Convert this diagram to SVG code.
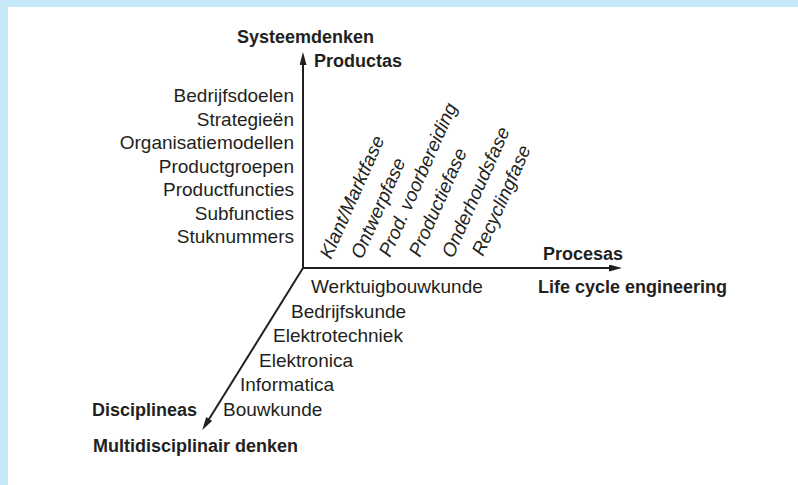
<svg xmlns="http://www.w3.org/2000/svg" width="798" height="485" viewBox="0 0 798 485">
<style>
.t{font-family:"Liberation Sans",Arial,sans-serif;font-size:19px;fill:#231f20}
.b{font-family:"Liberation Sans",Arial,sans-serif;font-size:18px;font-weight:bold;fill:#231f20}
.i{font-style:italic}
.ax{stroke:#231f20;stroke-width:2;fill:none}
</style>
<defs>
<marker id="ah" markerUnits="userSpaceOnUse" markerWidth="14" markerHeight="8" refX="6" refY="3.5" orient="auto">
<path d="M0,0 L13,3.5 L0,7 Z" fill="#231f20"/>
</marker>
</defs>
<rect x="0" y="0" width="798" height="485" fill="#ffffff"/>
<rect x="0" y="0" width="798" height="7" fill="#c5e9f8"/>
<rect x="0" y="0" width="8" height="485" fill="#c5e9f8"/>
<g id="connectors">
<line class="ax" x1="303" y1="268" x2="303" y2="59" marker-end="url(#ah)"/>
<line class="ax" x1="302" y1="268" x2="615" y2="268" marker-end="url(#ah)"/>
<line class="ax" x1="303" y1="268" x2="206" y2="424" marker-end="url(#ah)"/>
</g>
<g id="axis-y">
<text class="b" x="237" y="43">Systeemdenken</text>
<text class="b" x="314" y="67">Productas</text>
</g>
<g id="axis-x">
<text class="b" x="543" y="260">Procesas</text>
<text class="b" x="538" y="293">Life cycle engineering</text>
</g>
<g id="axis-z">
<text class="b" x="92" y="416">Disciplineas</text>
<text class="b" x="93" y="452">Multidisciplinair denken</text>
</g>
<g id="products" class="t" text-anchor="end">
<text x="294" y="102">Bedrijfsdoelen</text>
<text x="294" y="125.5">Strategieën</text>
<text x="294" y="149">Organisatiemodellen</text>
<text x="294" y="172.5">Productgroepen</text>
<text x="294" y="196">Productfuncties</text>
<text x="294" y="219.5">Subfuncties</text>
<text x="294" y="243">Stuknummers</text>
</g>
<g id="processes" class="t i">
<text transform="translate(331,260) rotate(-66)">Klant/Marktfase</text>
<text transform="translate(362,260) rotate(-66)">Ontwerpfase</text>
<text transform="translate(390,258) rotate(-66)">Prod. voorbereiding</text>
<text transform="translate(420,258) rotate(-66)">Productiefase</text>
<text transform="translate(453,259) rotate(-66)">Onderhoudsfase</text>
<text transform="translate(483,257) rotate(-66)">Recyclingfase</text>
</g>
<g id="disciplines" class="t">
<text x="311" y="293">Werktuigbouwkunde</text>
<text x="291" y="317.5">Bedrijfskunde</text>
<text x="273" y="342">Elektrotechniek</text>
<text x="259" y="366.5">Elektronica</text>
<text x="240" y="391">Informatica</text>
<text x="223" y="415.5">Bouwkunde</text>
</g>
</svg>
